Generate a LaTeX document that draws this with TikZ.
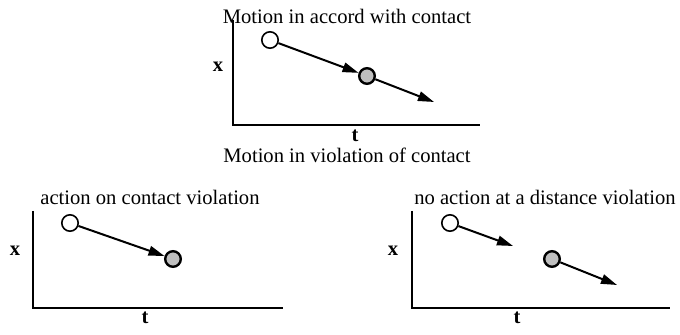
\documentclass[tikz,border=0pt]{standalone}
\usepackage{fontspec}
\setmainfont{Liberation Serif}
\usetikzlibrary{arrows.meta}
\begin{document}
\begin{tikzpicture}[x=0.5pt,y=-0.5pt,
  axis/.style={line width=1pt},
  motion/.style={line width=1pt,-{Triangle[length=8pt,width=4.8pt]}},
  open/.style={circle,draw,line width=0.8pt,fill=white,minimum size=8.2pt,inner sep=0pt},
  filled/.style={circle,draw,line width=1.2pt,fill=gray!50,minimum size=7.8pt,inner sep=0pt},
  lbl/.style={font=\fontsize{10.3}{12}\selectfont,inner sep=0pt},
  axl/.style={font=\fontsize{10.3}{12}\selectfont\bfseries,inner sep=0pt}]
\useasboundingbox (0,0) rectangle (680,335);
% top panel
\coordinate (ta) at (233,20);
\coordinate (to) at (233,125);
\coordinate (te) at (480,125);
\draw[axis] (ta) -- (to) -- (te);
\node[lbl] (title1) at (347,16) {Motion in accord with contact};
\node[axl] (tx) at (218,67) {x};
\node[axl] (tt) at (355,136) {t};
\node[open] (tc1) at (270,40) {};
\node[filled] (tc2) at (367,76) {};
\coordinate (tend) at (434,102);
\draw[motion] (tc1) -- (tc2);
\draw[motion] (tc2) -- (tend);
\node[lbl] (title2) at (347,155) {Motion in violation of contact};
% bottom left
\coordinate (la) at (33,211);
\coordinate (lo) at (33,308);
\coordinate (le) at (283,308);
\draw[axis] (la) -- (lo) -- (le);
\node[lbl] (title3) at (150,197) {action on contact violation};
\node[axl] (lx) at (15,251) {x};
\node[axl] (lt) at (145,318) {t};
\node[open] (lc1) at (70,223) {};
\node[filled] (lc2) at (173,259) {};
\draw[motion] (lc1) -- (lc2);
% bottom right
\coordinate (ra) at (412,211);
\coordinate (ro) at (412,308);
\coordinate (re) at (670,308);
\draw[axis] (ra) -- (ro) -- (re);
\node[lbl] (title4) at (545,197) {no action at a distance violation};
\node[axl] (rx) at (393,251) {x};
\node[axl] (rt) at (517,318) {t};
\node[open] (rc1) at (450,223) {};
\coordinate (rend1) at (513,246);
\node[filled] (rc2) at (552,259) {};
\coordinate (rend2) at (617,285);
\draw[motion] (rc1) -- (rend1);
\draw[motion] (rc2) -- (rend2);
\end{tikzpicture}
\end{document}
